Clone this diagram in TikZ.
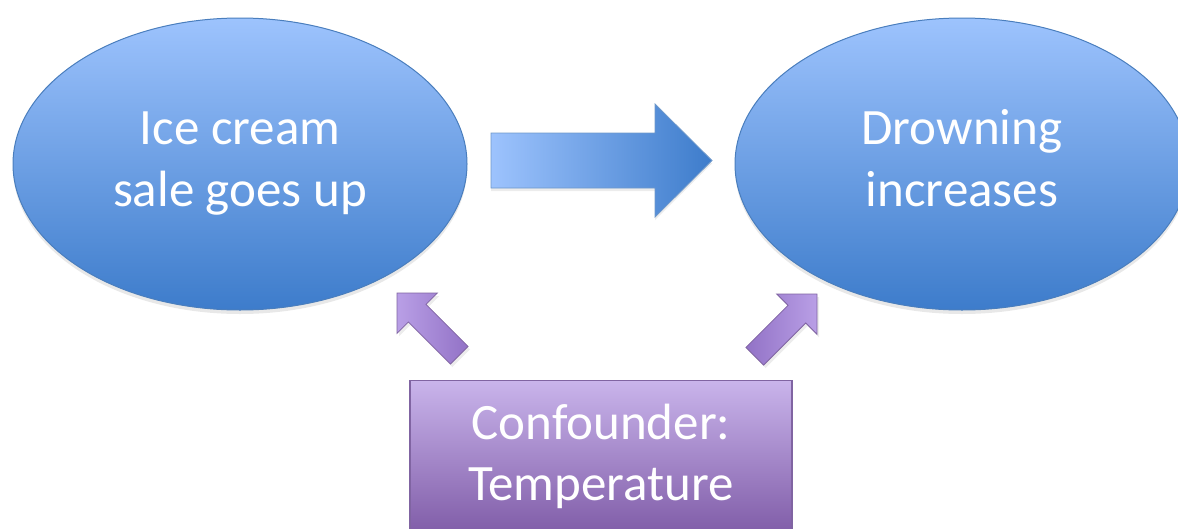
\documentclass[tikz,border=0pt]{standalone}
\usepackage{fontspec}
\setmainfont{Carlito}
\usetikzlibrary{shapes.geometric,shadows}
\definecolor{blueTop}{HTML}{9DC3FD}
\definecolor{blueBot}{HTML}{3D7CCB}
\definecolor{blueLine}{HTML}{4A7EBD}
\definecolor{purpTop}{HTML}{C9B4EB}
\definecolor{purpBot}{HTML}{7E5AA6}
\definecolor{purpLine}{HTML}{8064A2}
\definecolor{arrA}{HTML}{B99FE6}
\definecolor{arrB}{HTML}{9272C6}
\newcommand\topstrut{\rule{0pt}{40pt}}
\newcommand\botstrut{\rule[-18pt]{0pt}{18pt}}
\tikzset{
  oval/.style={ellipse, draw=blueLine, line width=1pt, top color=blueTop, bottom color=blueBot,
    minimum width=454pt, minimum height=292pt, inner sep=0pt, text=white, align=center,
    font=\fontsize{51}{62}\selectfont,
    drop shadow={opacity=0.18, shadow xshift=0pt, shadow yshift=-4pt}},
  confbox/.style={rectangle, draw=purpLine, line width=1.2pt, top color=purpTop, bottom color=purpBot,
    minimum width=382pt, minimum height=157pt, inner sep=0pt, text=white, align=center,
    font=\fontsize{51}{61}\selectfont, anchor=north},
  bigarrow/.style={draw=blueLine!80, line width=0.8pt, left color=blueTop, right color=blueBot,
    drop shadow={opacity=0.15, shadow xshift=0pt, shadow yshift=-3pt}},
  smallarrow/.style={draw=purpLine, line width=0.8pt,
    drop shadow={opacity=0.15, shadow xshift=2pt, shadow yshift=-3pt}}
}
\begin{document}
\begin{tikzpicture}[x=1pt,y=-1pt]
\useasboundingbox (0,0) rectangle (1178,528);
\begin{scope}
\clip (0,0) rectangle (1178,528);
\node[oval] (ice) at (240,164) {\topstrut Ice cream\\sale goes up\botstrut};
\node[oval] (drown) at (962,164) {\topstrut Drowning\\increases\botstrut};
\node[confbox] (conf) at (601,380) {\topstrut Confounder:\\Temperature\botstrut};
% main block arrow
\path[bigarrow] (491,133) -- (655,133) -- (655,104) -- (712,160.5) -- (655,217) -- (655,188) -- (491,188) -- cycle;
% small arrows (tip at origin, pointing along +x)
\begin{scope}[shift={(397,293)}, rotate=135]
\path[smallarrow, left color=arrA, right color=arrB] (-88,-12.5) -- (-28.5,-12.5) -- (-28.5,-28.5) -- (0,0) -- (-28.5,28.5) -- (-28.5,12.5) -- (-88,12.5) -- cycle;
\end{scope}
\begin{scope}[shift={(817,294)}, rotate=45]
\path[smallarrow, left color=arrB, right color=arrA] (-88,-12.5) -- (-28.5,-12.5) -- (-28.5,-28.5) -- (0,0) -- (-28.5,28.5) -- (-28.5,12.5) -- (-88,12.5) -- cycle;
\end{scope}
\end{scope}
\end{tikzpicture}
\end{document}
